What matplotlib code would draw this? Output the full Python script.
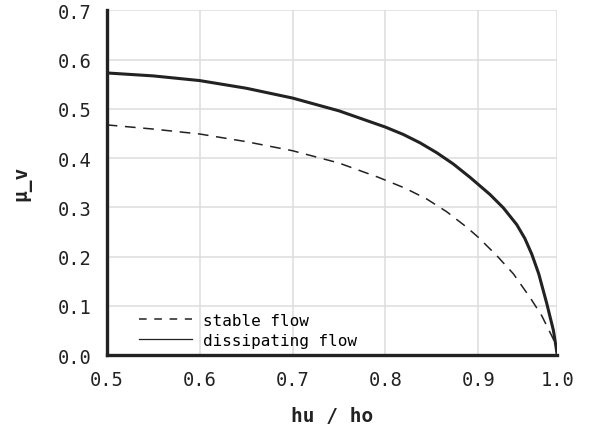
import matplotlib.pyplot as plt

# values
hu_ho_stable = [0.5, 0.55, 0.6, 0.65, 0.7, 0.75, 0.7924, 0.8211, 0.8444, 0.866, 0.8875, 0.9,
                0.9198, 0.9377, 0.9556, 0.9682, 0.9807, 0.985]
mu_stable = [0.4675, 0.459, 0.449, 0.4335, 0.415, 0.390, 0.361, 0.339, 0.317, 0.291, 0.2596, 0.239,
             0.202, 0.165, 0.117, 0.080, 0.0325, 0.0]

hu_ho_diss = [0.5, 0.55, 0.6, 0.65, 0.7, 0.75, 0.8, 0.8193, 0.8373, 0.8552, 0.8731, 0.891, 0.9126,
              0.9269, 0.9413, 0.95, 0.9575, 0.965, 0.9736, 0.9808, 0.985]
mu_diss = [0.573, 0.567, 0.5575, 0.542, 0.522, 0.496, 0.463, 0.448, 0.431, 0.411, 0.388, 0.361, 0.326,
           0.299, 0.265, 0.237, 0.205, 0.165, 0.105, 0.05, 0.0]

x_ticks = [0.5, 0.6, 0.7, 0.8, 0.9, 0.985]
x_tick_labels = ['0.5', '0.6', '0.7', '0.8', '0.9', '1.0']
y_ticks = [0.0, 0.1, 0.2, 0.3, 0.4, 0.5, 0.6, 0.7]
y_tick_labels = ['0.0', '0.1', '0.2', '0.3', '0.4', '0.5', '0.6', '0.7']

plt.rcParams['font.family'] = 'DejaVu Sans Mono'
ink = '#222222'

fig = plt.figure(figsize=(5.91, 4.39), dpi=100)
ax = fig.add_axes([0.1805, 0.189, 0.7625, 0.785])

ax.plot(hu_ho_stable, mu_stable, color=ink, lw=1.1, dashes=(7, 5), label='stable flow')
ax.plot(hu_ho_diss, mu_diss, color=ink, lw=2.2, label='dissipating flow')

ax.set_xlim(0.5, 0.985)
ax.set_ylim(0, 0.7)
ax.set_xticks(x_ticks)
ax.set_xticklabels(x_tick_labels)
ax.set_yticks(y_ticks)
ax.set_yticklabels(y_tick_labels)
ax.tick_params(length=0, labelsize=13.5, colors=ink)
ax.tick_params(axis='x', pad=11)
ax.tick_params(axis='y', pad=11)

ax.grid(True, color='#dddddd', lw=1.1)
ax.set_axisbelow(True)
for s in ['top', 'right']:
    ax.spines[s].set_visible(False)
for s in ['left', 'bottom']:
    ax.spines[s].set_linewidth(2.4)
    ax.spines[s].set_color(ink)

ax.set_xlabel('hu / ho', fontsize=14, fontweight='bold', color=ink, labelpad=12)
ax.set_ylabel('μ_v', fontsize=14, fontweight='bold', color=ink, labelpad=19)

leg = ax.legend(loc='lower left', bbox_to_anchor=(0.04, -0.02), frameon=False,
                fontsize=11.5, handlelength=3.3, handletextpad=0.7, labelspacing=0.3)
leg.get_lines()[0].set_dashes((5, 5))
leg.get_lines()[1].set_linewidth(0.9)

fig.savefig('out.png', dpi=100)
